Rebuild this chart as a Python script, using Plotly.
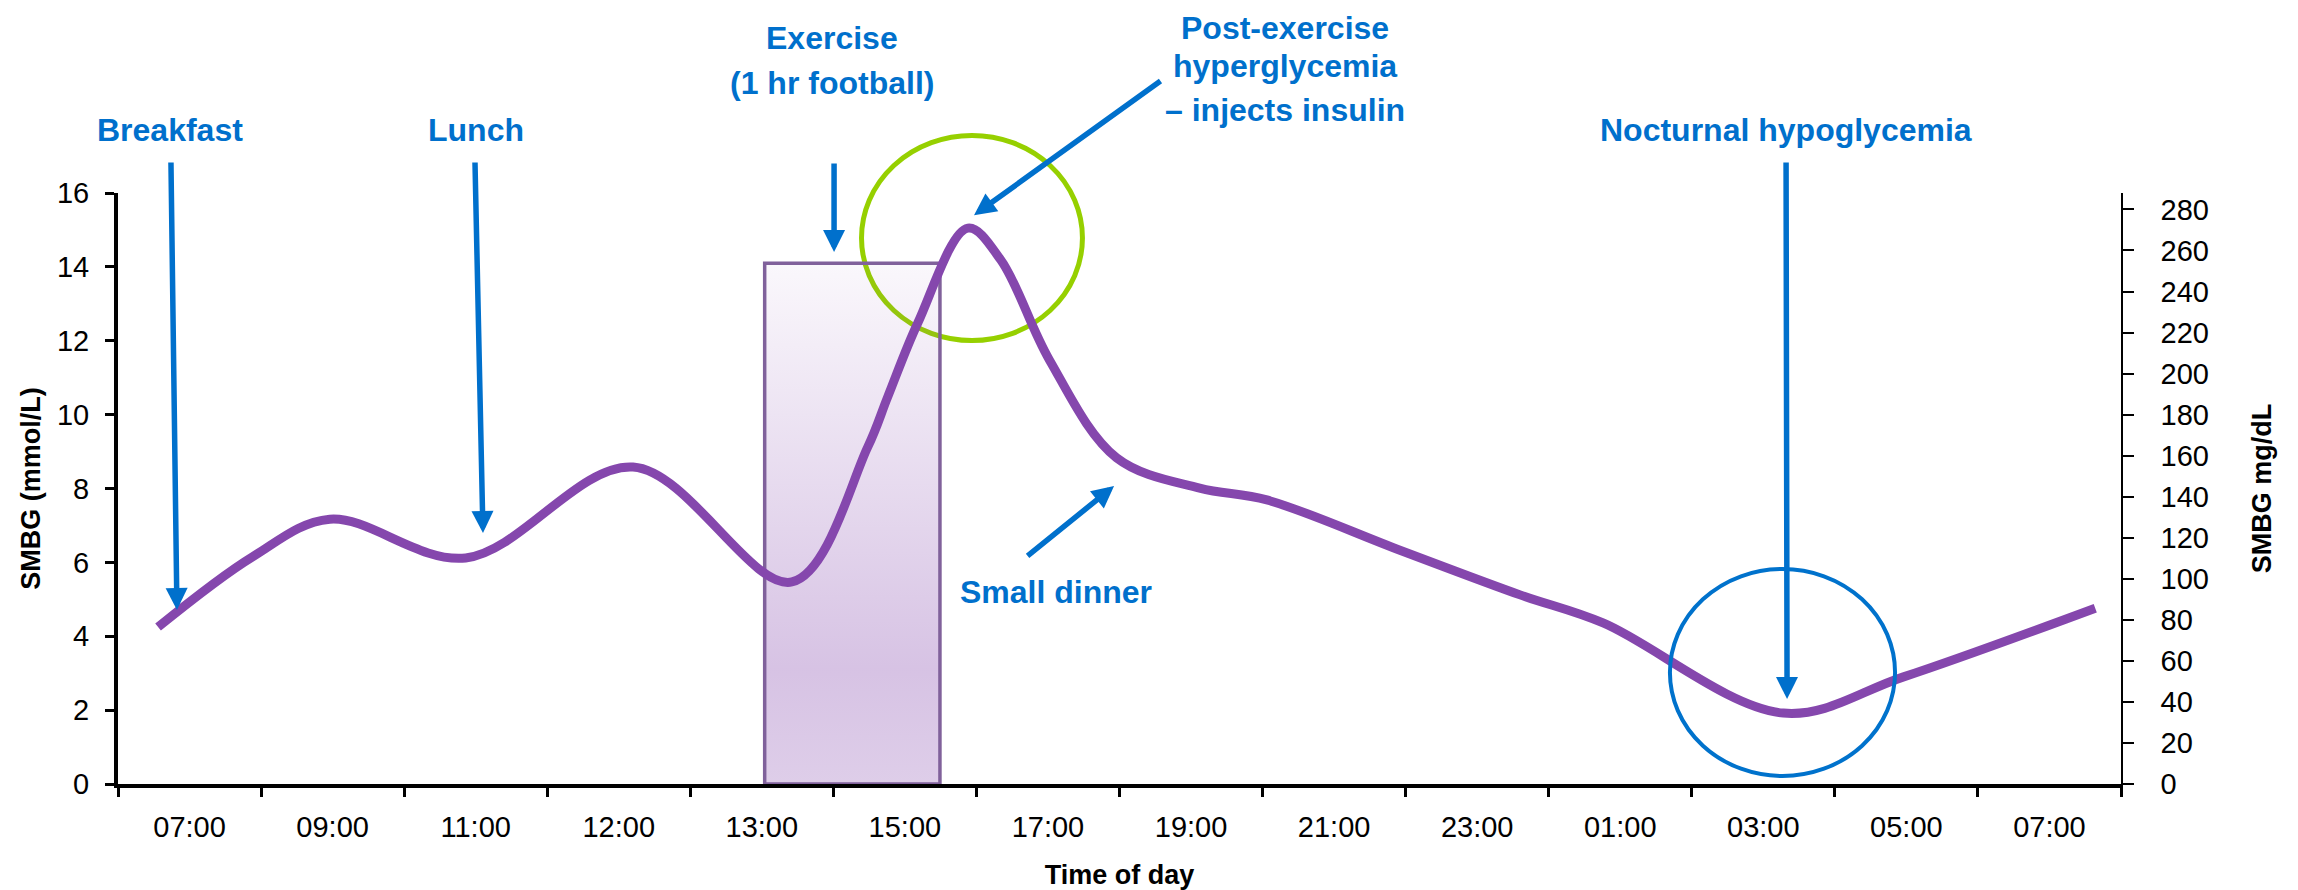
import plotly.graph_objects as go

# ---- data ----
time_labels = ["07:00", "09:00", "11:00", "12:00", "13:00", "15:00", "17:00",
               "19:00", "21:00", "23:00", "01:00", "03:00", "05:00", "07:00"]
slot_index = list(range(len(time_labels)))

# glucose curve (x in time-slot units, y in mmol/L)
curve_pos = [-0.22, 0.44, 0.98, 1.93, 3.10, 4.21, 4.74, 4.88,
             5.09, 5.44, 5.67, 6.01, 6.48, 7.06, 7.53, 8.46, 9.30,
             9.88, 11.14, 11.98, 13.32]
smbg_mmol = [4.25, 6.15, 7.17, 6.12, 8.58, 5.47, 9.12, 10.48,
             12.48, 15.05, 14.19, 11.48, 8.83, 8.01, 7.69, 6.33, 5.12,
             4.36, 1.92, 2.90, 4.76]

# exercise period box
exercise_start = 4.02
exercise_end = 5.245
exercise_level = 14.1

mmol_ticks = list(range(0, 17, 2))
mgdl_ticks = list(range(0, 281, 20))
MGDL_PER_MMOL = 18

BLUE = "#0070CC"
PURPLE = "#8547AD"
FONT = "Liberation Sans, Arial, sans-serif"

fig = go.Figure()

# exercise box with vertical gradient
fig.add_trace(go.Scatter(
    x=[exercise_start, exercise_end, exercise_end, exercise_start, exercise_start],
    y=[0, 0, exercise_level, exercise_level, 0],
    mode="lines", fill="toself",
    line=dict(color="#80619B", width=3.5),
    fillgradient=dict(type="vertical",
                      colorscale=[[0, "rgba(133,72,173,0.27)"],
                                  [0.22, "rgba(133,72,173,0.33)"],
                                  [1, "rgba(133,72,173,0.04)"]]),
    hoverinfo="skip", showlegend=False))

# glucose curve
fig.add_trace(go.Scatter(
    x=curve_pos, y=smbg_mmol, mode="lines",
    line=dict(color=PURPLE, width=9, shape="spline", smoothing=1.0),
    showlegend=False))

# invisible trace for the right axis
fig.add_trace(go.Scatter(x=[None], y=[None], yaxis="y2", showlegend=False))

# ---- annotation texts (one entry per line) ----
texts = [
    ("Breakfast", 0.026, 1.1066),
    ("Lunch", 0.1787, 1.1066),
    ("Exercise", 0.3565, 1.2623),
    ("(1 hr football)", 0.3565, 1.1861),
    ("Post-exercise", 0.5826, 1.2792),
    ("hyperglycemia", 0.5826, 1.2149),
    ("\u2013 injects insulin", 0.5826, 1.1404),
    ("Nocturnal hypoglycemia", 0.8328, 1.1066),
    ("Small dinner", 0.4683, 0.3249),
]
annotations = []
for t, xp, yp in texts:
    annotations.append(dict(text="<b>" + t + "</b>",
                            x=xp, y=yp, xref="paper", yref="paper",
                            showarrow=False, xanchor="center", yanchor="middle",
                            borderpad=0,
                            font=dict(family=FONT, size=32, color=BLUE)))

# arrows: (tail_x, tail_y, tip_x, tip_y) in data units
arrows = [
    (-0.130, 16.865, -0.088, 4.71),
    (1.995, 16.865, 2.051, 6.795),
    (4.505, 16.84, 4.505, 14.40),
    (6.797, 19.06, 5.483, 15.40),
    (5.847, 6.145, 6.462, 8.067),
    (11.159, 16.865, 11.166, 2.30),
]
for ax_, ay_, x_, y_ in arrows:
    annotations.append(dict(text="", x=x_, y=y_, ax=ax_, ay=ay_,
                            xref="x", yref="y", axref="x", ayref="y",
                            showarrow=True, arrowhead=2, arrowsize=0.8,
                            arrowwidth=5.5, arrowcolor=BLUE, standoff=0))

shapes = [
    dict(type="circle", xref="paper", yref="paper",
         x0=0.3712, x1=0.4815, y0=0.7504, y1=1.0973,
         line=dict(color="#96D000", width=5), layer="below"),
    dict(type="circle", xref="paper", yref="paper",
         x0=0.7748, x1=0.8872, y0=0.01354, y1=0.3638,
         line=dict(color="#0072CC", width=4), layer="above"),
]

fig.update_layout(
    width=2290, height=882,
    margin=dict(l=110, r=177, t=185, b=106, autoexpand=False),
    paper_bgcolor="white", plot_bgcolor="white",
    font=dict(family=FONT, size=29, color="black"),
    annotations=annotations, shapes=shapes,
    xaxis=dict(
        range=[-0.5, 13.5], tickmode="array", tickvals=slot_index, ticktext=time_labels,
        ticks="", showgrid=False, zeroline=False, automargin=False,
        showline=True, linecolor="black", linewidth=4,
        minor=dict(tickmode="linear", tick0=-0.5, dtick=1, ticks="outside",
                   ticklen=9, tickwidth=3, tickcolor="black", showgrid=False),
        tickfont=dict(size=29), ticklabelstandoff=14,
        title=dict(text="<b>Time of day</b>", font=dict(size=27), standoff=30),
    ),
    yaxis=dict(
        range=[0, 16], tickvals=mmol_ticks, ticks="outside", ticklen=9, tickwidth=3,
        tickcolor="black", showgrid=False, zeroline=False, automargin=False,
        showline=True, linecolor="black", linewidth=4,
        tickfont=dict(size=29), ticklabelstandoff=10,
        title=dict(text="<b>SMBG (mmol/L)</b>", font=dict(size=27), standoff=9),
    ),
    yaxis2=dict(
        overlaying="y", side="right", anchor="x", automargin=False,
        range=[0, 16 * MGDL_PER_MMOL], tickvals=mgdl_ticks,
        ticks="outside", ticklen=11, tickwidth=1.5, tickcolor="black",
        showgrid=False, zeroline=False,
        showline=True, linecolor="black", linewidth=1.5,
        tickfont=dict(size=29), ticklabelstandoff=21,
        title=dict(text="<b>SMBG mg/dL</b>", font=dict(size=27), standoff=44),
    ),
)

fig.write_html("out.html")
